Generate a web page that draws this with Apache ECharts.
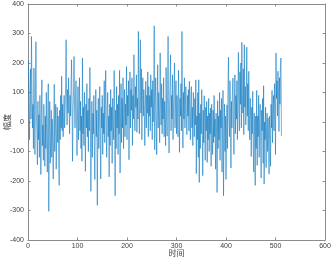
<!DOCTYPE html>
<html><head><meta charset="utf-8">
<script src="https://cdn.jsdelivr.net/npm/echarts@6/dist/echarts.min.js"></script>
<style>html,body{margin:0;padding:0;background:#fff}#c{width:333px;height:261px}</style>
</head><body><div id="c"></div>
<script>
const xName = '时间';
const yName = '幅度';
const xTicks = [0,100,200,300,400,500,600];
const yTicks = [-400,-300,-200,-100,0,100,200,300,400];
const amplitude = [
210,40,-60,95,180,10,290,120,-20,60,-90,183,30,-110,85,272,20,-40,-145,70,
-60,25,-120,90,-30,-178,15,143,-80,-10,-130,60,-40,-150,20,-90,100,-60,-170,30,
130,-303,-20,70,-140,-50,40,-120,10,-80,-193,-30,128,-100,-10,60,-160,-40,50,-70,
20,-110,-215,40,-60,90,-20,155,-30,60,-50,20,90,-20,40,120,279,70,-10,110,
30,150,60,-40,90,20,130,211,50,-133,40,100,222,60,-20,80,140,10,-114,30,
120,-60,40,150,-30,70,-90,20,-133,217,-40,50,-80,100,10,-167,60,-20,130,-50,
40,-100,80,-30,185,20,-235,-60,70,-120,30,-40,90,-80,-195,10,110,-50,40,-282,
-30,80,-90,20,120,-60,-193,50,-20,90,-110,30,-40,140,-70,60,175,-20,-120,40,
100,-50,20,-186,60,-80,110,-30,50,-140,80,10,-60,175,30,-250,40,-90,120,-20,
60,-110,90,-40,175,-173,30,130,-70,80,-20,150,-90,40,110,-50,60,-10,188,-60,
90,20,140,-128,60,170,-20,110,40,150,-80,90,10,228,70,-30,120,50,160,-35,
80,10,307,60,-40,140,279,30,180,-60,90,150,20,110,40,-80,60,138,-20,90,
30,170,-50,120,20,90,-30,160,50,110,-60,140,0,80,326,-94,60,150,20,-111,
50,194,-20,100,30,-70,234,60,-10,130,-40,80,10,150,-50,70,20,-80,185,30,
-48,100,290,20,-105,60,130,228,-30,90,10,160,-60,50,110,200,-20,70,140,-40,
90,30,-50,175,60,-103,80,20,130,-30,307,40,-88,100,10,150,-20,60,120,0,
-43,90,20,110,-30,138,40,-60,70,120,-20,50,-80,100,10,-50,80,-10,143,-175,
20,-60,100,-120,143,-205,30,-90,60,-40,110,-20,-182,40,-70,89,-10,-130,50,-30,
70,-137,20,-60,80,-100,30,-40,47,-150,60,-20,-110,40,-70,90,-50,10,-160,30,
-40,-239,72,-90,20,-60,100,-130,40,-20,80,-170,10,107,-250,-30,60,-100,20,-195,
-40,58,-90,120,220,10,-50,140,30,-156,70,-20,100,149,20,-110,60,160,-40,90,
10,140,-60,80,236,40,-30,170,60,200,-20,270,90,30,180,-43,262,50,120,-10,
90,254,20,130,-30,172,40,-60,80,10,-117,50,-40,104,-80,-170,30,-60,-215,20,
-90,107,-147,20,-50,90,-120,10,60,-80,-190,40,-30,80,-140,123,-210,0,-60,50,
-155,-20,30,-100,14,-60,-177,20,-40,-150,60,-20,107,-70,40,90,-30,130,60,-110,
234,80,140,20,172,100,-32,150,60,190,217,-48
];
const data = amplitude.map((v, i) => [i + 1, v]);
const gridLine = '#8c8c8c';
const labelColor = '#404040';
const font = 'Liberation Sans, Arial, sans-serif';
const chart = echarts.init(document.getElementById('c'), null, {renderer: 'canvas'});
const tick = {show: true, inside: true, length: 2.5, lineStyle: {color: gridLine}};
const line = {show: true, onZero: false, lineStyle: {color: gridLine, width: 1}};
chart.setOption({
  animation: false,
  backgroundColor: '#fff',
  grid: {left: 28, right: 8, top: 4, bottom: 21, show: false, containLabel: false, outerBoundsMode: 'none'},
  xAxis: [{
    type: 'value', min: 0, max: 600, interval: 100,
    name: xName, nameLocation: 'middle', nameGap: 9, nameMoveOverlap: false,
    nameTextStyle: {color: labelColor, fontSize: 8, fontFamily: 'Noto Sans CJK SC'},
    axisLine: line, axisTick: tick,
    axisLabel: {color: labelColor, fontSize: 7, fontFamily: font, margin: 3},
    splitLine: {show: false}
  }, {
    type: 'value', min: 0, max: 600, interval: 100, position: 'top',
    axisLine: line, axisTick: tick,
    axisLabel: {show: false}, splitLine: {show: false}
  }],
  yAxis: [{
    type: 'value', min: -400, max: 400, interval: 100,
    name: yName, nameLocation: 'middle', nameGap: 17, nameRotate: 90, nameMoveOverlap: false,
    nameTextStyle: {color: labelColor, fontSize: 8, fontFamily: 'Noto Sans CJK SC'},
    axisLine: line, axisTick: tick,
    axisLabel: {color: labelColor, fontSize: 7, fontFamily: font, margin: 4},
    splitLine: {show: false}
  }, {
    type: 'value', min: -400, max: 400, interval: 100, position: 'right',
    axisLine: line, axisTick: tick,
    axisLabel: {show: false}, splitLine: {show: false}
  }],
  series: [{
    type: 'line', data: data, xAxisIndex: 0, yAxisIndex: 0,
    showSymbol: false, symbol: 'none',
    lineStyle: {color: '#0072BD', width: 0.55},
    silent: true
  }]
});
</script></body></html>
